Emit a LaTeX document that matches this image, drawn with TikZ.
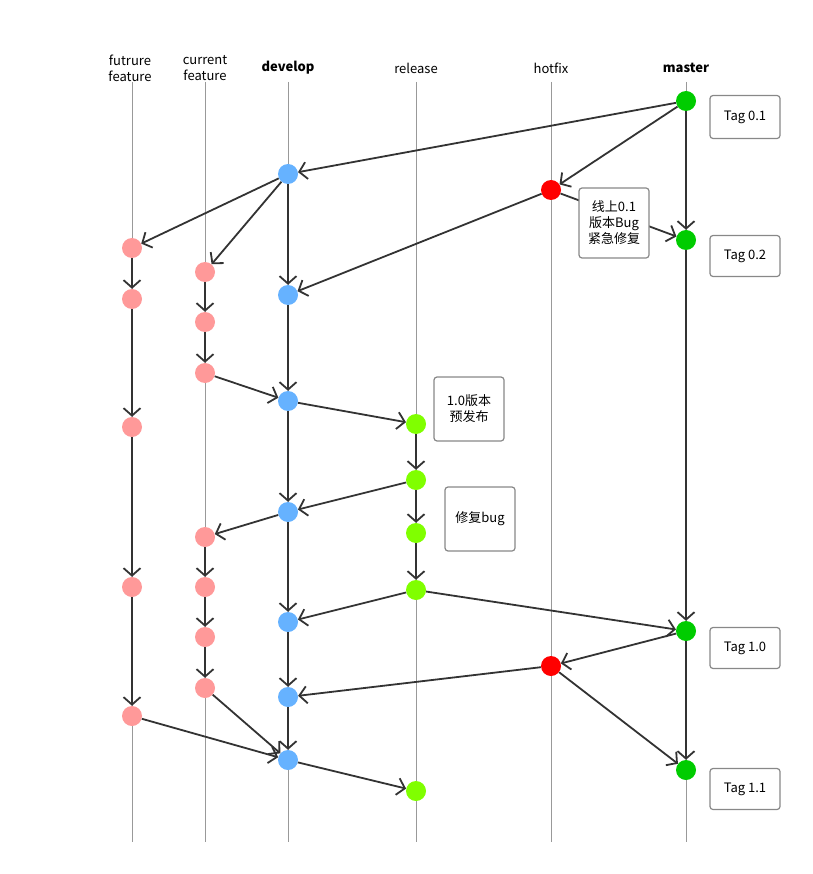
\documentclass[tikz,border=0pt]{standalone}
\usepackage{fontspec}
\setmainfont{Noto Sans CJK SC}
\usetikzlibrary{arrows.meta}
\definecolor{edgec}{HTML}{333333}
\definecolor{lanec}{HTML}{999999}
\definecolor{boxc}{HTML}{888888}
\definecolor{masterc}{HTML}{00CC00}
\definecolor{hotfixc}{HTML}{FF0000}
\definecolor{devc}{HTML}{66B2FF}
\definecolor{relc}{HTML}{80FF00}
\definecolor{featc}{HTML}{FF9999}
\begin{document}
\begin{tikzpicture}[x=1pt,y=-1pt,
  font=\fontsize{13}{16}\selectfont,
  dot/.style={circle,minimum size=20pt,inner sep=0pt},
  mdot/.style={dot,fill=masterc},
  hdot/.style={dot,fill=hotfixc},
  ddot/.style={dot,fill=devc},
  rdot/.style={dot,fill=relc},
  fdot/.style={dot,fill=featc},
  lane/.style={draw=lanec,line width=0.8pt},
  flow/.style={draw=edgec,line width=1.8pt,-{Straight Barb[length=7.5pt,width=17pt,line width=1.8pt]}},
  note/.style={draw=boxc,line width=1.2pt,rounded corners=3pt,fill=white,minimum width=70pt,align=center,inner sep=2pt},
  lanelabel/.style={align=center,inner sep=0pt}
]
\useasboundingbox (0,0) rectangle (812,874);

% lane headers
\node[lanelabel] (lf) at (130,68) {futrure\\feature};
\node[lanelabel] (lc) at (205,68) {current\\feature};
\node[lanelabel,font=\fontsize{13}{16}\selectfont\bfseries] (ld) at (288,68) {develop};
\node[lanelabel] (lr) at (416,68) {release};
\node[lanelabel] (lh) at (551,68) {hotfix};
\node[lanelabel,font=\fontsize{13}{16}\selectfont\bfseries] (lm) at (686,68) {master};

% lane lines
\coordinate (ft) at (132,82);  \coordinate (fb) at (132,842);
\coordinate (ct) at (205,82);  \coordinate (cb) at (205,842);
\coordinate (dt) at (288,82);  \coordinate (db) at (288,842);
\coordinate (rt) at (416,82);  \coordinate (rb) at (416,842);
\coordinate (ht) at (551,82);  \coordinate (hb) at (551,842);
\coordinate (mt) at (686,82);  \coordinate (mb) at (686,842);
\foreach \a/\b in {ft/fb,ct/cb,dt/db,rt/rb,ht/hb,mt/mb} \draw[lane] (\a) -- (\b);

% commits
\node[mdot] (M1) at (686,101) {};
\node[mdot] (M2) at (686,240) {};
\node[mdot] (M3) at (686,631) {};
\node[mdot] (M4) at (686,770) {};
\node[hdot] (H1) at (551,190) {};
\node[hdot] (H2) at (551,666) {};
\node[ddot] (D1) at (288,174) {};
\node[ddot] (D2) at (288,295) {};
\node[ddot] (D3) at (288,401) {};
\node[ddot] (D4) at (288,512) {};
\node[ddot] (D5) at (288,622) {};
\node[ddot] (D6) at (288,697) {};
\node[ddot] (D7) at (288,760) {};
\node[rdot] (R1) at (416,424) {};
\node[rdot] (R2) at (416,480) {};
\node[rdot] (R3) at (416,533) {};
\node[rdot] (R4) at (416,590) {};
\node[rdot] (R5) at (416,791) {};
\node[fdot] (F1) at (132,248) {};
\node[fdot] (F2) at (132,299) {};
\node[fdot] (F3) at (132,427) {};
\node[fdot] (F4) at (132,587) {};
\node[fdot] (F5) at (132,716) {};
\node[fdot] (C1) at (205,272) {};
\node[fdot] (C2) at (205,322) {};
\node[fdot] (C3) at (205,373) {};
\node[fdot] (C4) at (205,537) {};
\node[fdot] (C5) at (205,587) {};
\node[fdot] (C6) at (205,637) {};
\node[fdot] (C7) at (205,688) {};

% merges and branches
\foreach \a/\b in {M1/D1,M1/H1,M1/M2,H1/M2,H1/D2,D1/F1,D1/C1,D1/D2,
  F1/F2,F2/F3,F3/F4,F4/F5,F5/D7,C1/C2,C2/C3,C3/D3,D2/D3,D3/R1,D3/D4,
  R1/R2,R2/D4,R2/R3,R3/R4,D4/C4,D4/D5,C4/C5,C5/C6,C6/C7,C7/D7,
  R4/D5,R4/M3,M2/M3,M3/H2,M3/M4,H2/D6,H2/M4,D5/D6,D6/D7,D7/R5}
  \draw[flow] (\a) -- (\b);

% notes
\node[note,minimum height=43pt] (t01) at (745,117) {Tag 0.1};
\node[note,minimum height=70pt] (fix) at (614,223) {线上0.1\\版本Bug\\紧急修复};
\node[note,minimum height=41pt] (t02) at (745,256) {Tag 0.2};
\node[note,minimum height=64pt] (pre) at (469,409) {1.0版本\\预发布};
\node[note,minimum height=64pt] (bug) at (480,519) {修复bug};
\node[note,minimum height=41pt] (t10) at (745,648) {Tag 1.0};
\node[note,minimum height=41pt] (t11) at (745,789) {Tag 1.1};
\end{tikzpicture}
\end{document}
